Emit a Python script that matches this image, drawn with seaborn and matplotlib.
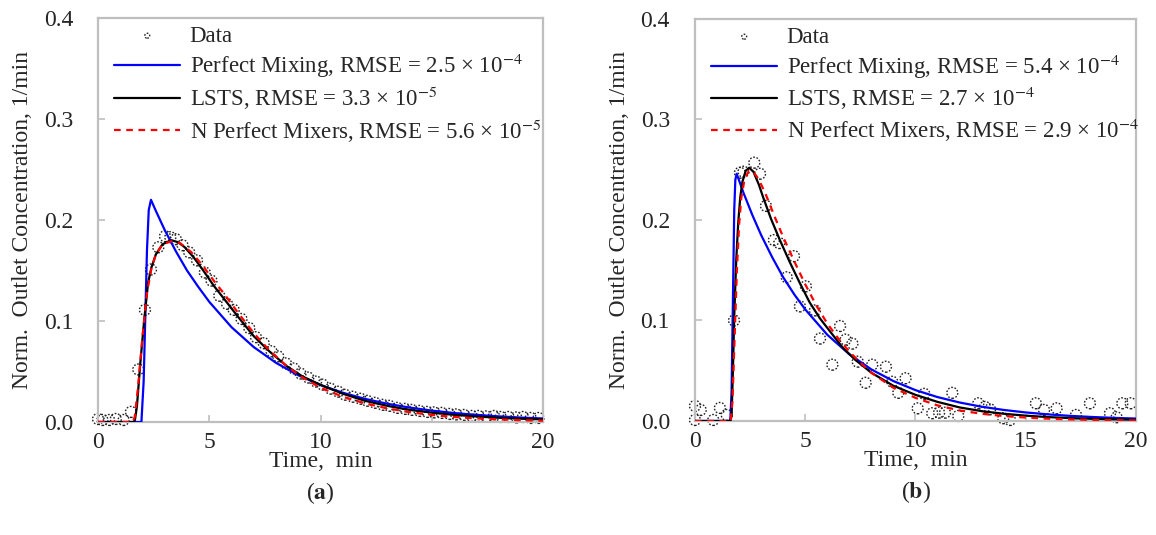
import pandas as pd
import matplotlib
matplotlib.use('Agg')
from matplotlib import pyplot as plt
import seaborn as sns

# ---- panel (a) ----
a_data_t = [0.0, 0.2, 0.5, 0.8, 1.15, 1.48, 1.81, 2.11, 2.38, 2.71, 3.01, 3.25, 3.5, 3.8, 4.1, 4.45,
            4.8, 5.1, 5.45, 5.8, 6.1, 6.45, 6.8, 7.1, 7.45, 7.8, 8.1, 8.45, 8.8, 9.1, 9.45, 9.8,
            10.1, 10.45, 10.8, 11.1, 11.45, 11.8, 12.1, 12.45, 12.8, 13.1, 13.45, 13.8, 14.1, 14.45,
            14.8, 15.1, 15.45, 15.8, 16.1, 16.45, 16.8, 17.1, 17.45, 17.8, 18.1, 18.45, 18.8, 19.1,
            19.45, 19.8]
a_data_c = [0.003, 0.002, 0.002, 0.003, 0.002, 0.010, 0.052, 0.111, 0.151, 0.173, 0.184, 0.183, 0.181,
            0.175, 0.168, 0.160, 0.148, 0.140, 0.125, 0.117, 0.111, 0.102, 0.093, 0.084, 0.078, 0.070,
            0.065, 0.058, 0.053, 0.048, 0.044, 0.040, 0.037, 0.033, 0.030, 0.027, 0.025, 0.023, 0.021,
            0.019, 0.017, 0.016, 0.014, 0.013, 0.012, 0.011, 0.010, 0.0095, 0.009, 0.008, 0.0075, 0.007,
            0.006, 0.006, 0.0055, 0.006, 0.005, 0.005, 0.0045, 0.005, 0.004, 0.004]

a_pm_t = [0, 1.95, 2.05, 2.12, 2.2, 2.28, 2.38, 2.6, 3.0, 3.5, 4.0, 4.5, 5, 6, 7, 8, 9, 10, 11, 12,
          13, 14, 15, 16, 17, 18, 19, 20]
a_pm_c = [0, 0, 0.04, 0.10, 0.17, 0.21, 0.220, 0.209, 0.190, 0.169, 0.150, 0.134, 0.119, 0.0939,
          0.0742, 0.0586, 0.0463, 0.0366, 0.0290, 0.0229, 0.0181, 0.0143, 0.0113, 0.0089, 0.0071,
          0.0056, 0.0044, 0.0035]

a_lsts_t = [0, 1.6, 1.66, 1.75, 1.9, 2.07, 2.25, 2.4, 2.6, 2.9, 3.3, 3.6, 3.9, 4.3, 4.7, 5.2, 5.7,
            6.3, 7, 7.7, 8.5, 9.2, 10, 11, 12, 13, 14, 15, 16, 17, 18, 19, 20]
a_lsts_c = [0, 0, 0.002, 0.016, 0.058, 0.100, 0.138, 0.153, 0.166, 0.176, 0.180, 0.178, 0.173, 0.163,
            0.151, 0.135, 0.121, 0.104, 0.085, 0.070, 0.055, 0.045, 0.0368, 0.028, 0.021, 0.016, 0.012,
            0.0093, 0.0071, 0.0055, 0.0042, 0.0033, 0.0026]

a_npm_t = [0, 1.55, 1.65, 1.8, 2.0, 2.2, 2.4, 2.6, 2.9, 3.3, 3.7, 4.2, 4.7, 5.2, 5.7, 6.3, 7, 7.7,
           8.5, 9.2, 10, 11, 12, 13, 14, 15, 16, 17, 18, 19, 20]
a_npm_c = [0, 0, 0.005, 0.035, 0.085, 0.128, 0.152, 0.166, 0.176, 0.179, 0.177, 0.168, 0.155, 0.140,
           0.126, 0.108, 0.088, 0.071, 0.055, 0.044, 0.034, 0.025, 0.0185, 0.0135, 0.0098, 0.007,
           0.005, 0.0036, 0.0026, 0.0018, 0.0013]

# ---- panel (b) ----
b_data_t = [0.0, 0.0, 0.26, 0.83, 1.13, 1.44, 1.77, 2.04, 2.2, 2.69, 2.95, 3.22, 3.58, 3.82, 4.16,
            4.49, 4.76, 5.03, 5.44, 5.67, 6.23, 6.58, 6.83, 7.14, 7.38, 7.74, 8.04, 8.66, 8.95, 9.22,
            9.55, 10.1, 10.4, 10.76, 11.07, 11.34, 11.67, 11.94, 12.85, 13.15, 13.38, 13.98, 14.29,
            15.46, 15.83, 16.4, 17.28, 17.91, 18.82, 19.12, 19.38, 19.76]
b_data_c = [0.015, 0.001, 0.011, 0.001, 0.013, 0.006, 0.100, 0.247, 0.248, 0.257, 0.246, 0.214, 0.180,
            0.177, 0.143, 0.164, 0.114, 0.134, 0.110, 0.082, 0.056, 0.0945, 0.081, 0.077, 0.059, 0.038,
            0.056, 0.054, 0.039, 0.028, 0.0425, 0.0126, 0.027, 0.0077, 0.0083, 0.0083, 0.028, 0.005,
            0.0176, 0.014, 0.0116, 0.0027, 0.001, 0.0176, 0.011, 0.0126, 0.006, 0.0176, 0.0077,
            0.0037, 0.0176, 0.0176]

b_pm_t = [0, 1.6, 1.66, 1.72, 1.78, 1.83, 1.89, 2.2, 2.6, 3.0, 3.5, 4, 4.5, 5, 6, 7, 8, 9, 10, 11,
          12, 13, 14, 15, 16, 17, 18, 19, 20]
b_pm_c = [0, 0, 0.03, 0.12, 0.21, 0.24, 0.246, 0.227, 0.205, 0.185, 0.163, 0.143, 0.126, 0.111,
          0.0858, 0.0664, 0.0513, 0.0397, 0.0307, 0.0238, 0.0184, 0.0142, 0.0110, 0.0085, 0.0066,
          0.0051, 0.0040, 0.0031, 0.0024]

b_lsts_t = [0, 1.6, 1.66, 1.72, 1.78, 1.87, 1.96, 2.05, 2.15, 2.3, 2.46, 2.65, 2.9, 3.1, 3.45, 3.85,
            4.3, 4.76, 5.2, 5.67, 6.2, 6.7, 7.26, 8, 9, 10, 11, 12, 13, 14, 15, 16, 17, 18, 19, 20]
b_lsts_c = [0, 0, 0.005, 0.05, 0.104, 0.160, 0.197, 0.222, 0.238, 0.249, 0.252, 0.248, 0.235, 0.222,
            0.201, 0.180, 0.158, 0.137, 0.118, 0.102, 0.087, 0.073, 0.061, 0.048, 0.035, 0.026, 0.019,
            0.0135, 0.0098, 0.0072, 0.0053, 0.0039, 0.0029, 0.0022, 0.0017, 0.0013]

b_npm_t = [0, 1.62, 1.7, 1.8, 1.9, 2.0, 2.1, 2.25, 2.45, 2.65, 2.9, 3.2, 3.6, 4.0, 4.5, 5.0, 5.5, 6,
           6.5, 7, 7.5, 8, 9, 10, 11, 12, 13, 14, 15, 16, 17, 18, 19, 20]
b_npm_c = [0, 0, 0.02, 0.085, 0.150, 0.195, 0.222, 0.241, 0.249, 0.248, 0.240, 0.226, 0.204, 0.183,
           0.159, 0.136, 0.115, 0.097, 0.082, 0.069, 0.058, 0.048, 0.033, 0.023, 0.0155, 0.0105,
           0.0072, 0.0049, 0.0034, 0.0023, 0.0016, 0.0011, 0.0008, 0.0005]

a_rmse = ['2.5 \u00d7 10$^{-4}$', '3.3 \u00d7 10$^{-5}$', '5.6 \u00d7 10$^{-5}$']
b_rmse = ['5.4 \u00d7 10$^{-4}$', '2.7 \u00d7 10$^{-4}$', '2.9 \u00d7 10$^{-4}$']
panel_tags = ['($\\mathbf{a}$)', '($\\mathbf{b}$)']

sns.set_theme(style='white')
plt.rcParams['font.family'] = ['Liberation Serif', 'DejaVu Serif']
plt.rcParams['mathtext.fontset'] = 'stix'

fig = plt.figure(figsize=(11.56, 5.35), dpi=100)
ax_a = fig.add_axes([0.0848, 0.2112, 0.3849, 0.7551])
ax_b = fig.add_axes([0.6012, 0.2131, 0.3815, 0.7514])

panels = [
    (ax_a, a_data_t, a_data_c, a_pm_t, a_pm_c, a_lsts_t, a_lsts_c, a_npm_t, a_npm_c, a_rmse, panel_tags[0]),
    (ax_b, b_data_t, b_data_c, b_pm_t, b_pm_c, b_lsts_t, b_lsts_c, b_npm_t, b_npm_c, b_rmse, panel_tags[1]),
]

for ax, dt, dc, pt, pc, lt, lc, nt, nc, rmse, tag in panels:
    sns.scatterplot(x=dt, y=dc, ax=ax, marker='o', s=62, facecolor='none', edgecolor='#222222',
                    linewidth=1.0, linestyle=(0, (1.2, 1.2)), label='Data', clip_on=False, zorder=2)
    sns.lineplot(x=pt, y=pc, ax=ax, color='#0000ff', linewidth=1.6, estimator=None, sort=False,
                 label='Perfect Mixing, RMSE = ' + rmse[0], zorder=3)
    sns.lineplot(x=lt, y=lc, ax=ax, color='black', linewidth=1.6, estimator=None, sort=False,
                 label='LSTS, RMSE = ' + rmse[1], zorder=4)
    sns.lineplot(x=nt, y=nc, ax=ax, color='#ff0000', linewidth=1.6, estimator=None, sort=False,
                 linestyle=(0, (3, 2.5)), label='N Perfect Mixers, RMSE = ' + rmse[2], zorder=5)

    ax.set_xlim(0, 20)
    ax.set_ylim(0, 0.4)
    ax.set_xticks([0, 5, 10, 15, 20])
    ax.set_yticks([0.0, 0.1, 0.2, 0.3, 0.4])
    ax.set_yticklabels(['0.0', '0.1', '0.2', '0.3', '0.4'])
    for sp in ax.spines.values():
        sp.set_color('#bfbfbf')
        sp.set_linewidth(1.6)
    ax.tick_params(axis='x', direction='in', length=5, width=1.2, color='#bfbfbf', pad=7,
                   labelsize=17, bottom=True)
    ax.tick_params(axis='y', direction='in', length=5, width=1.2, color='#bfbfbf', pad=18,
                   labelsize=17, left=True)
    ax.set_xlabel('Time,  min', fontsize=17, labelpad=-1)
    ax.set_ylabel('Norm.  Outlet Concentration, 1/min', fontsize=17, labelpad=8)
    ax.text(0.5, -0.176, tag, transform=ax.transAxes, ha='center', va='center', fontsize=17)

    leg = ax.legend(loc='upper left', bbox_to_anchor=(0.005, 1.015), frameon=False, fontsize=16.5,
                    handlelength=2.9, handletextpad=0.4, labelspacing=0.2, borderaxespad=0.2,
                    markerscale=0.45)

fig.savefig('out.png', dpi=100)
